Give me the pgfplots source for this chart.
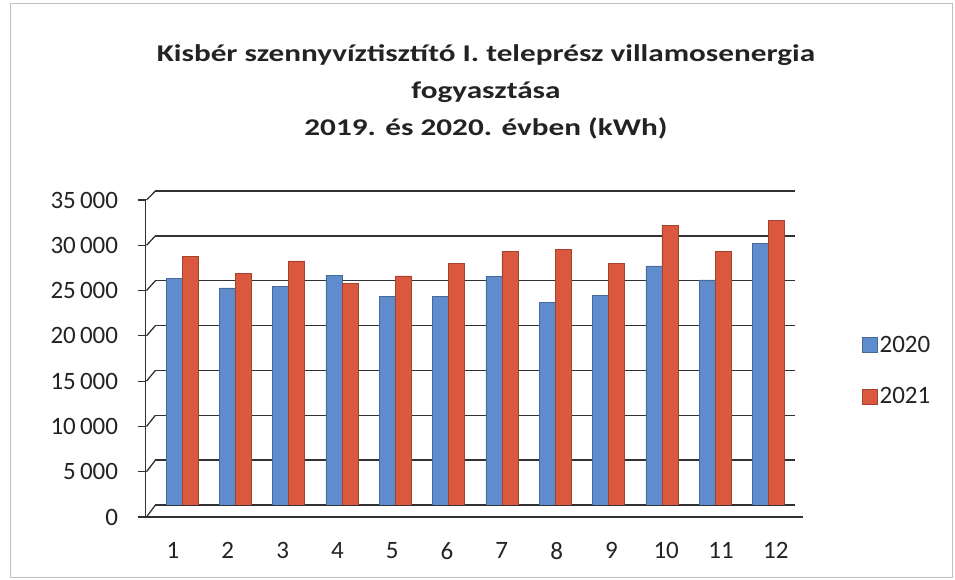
\documentclass[border=0pt]{standalone}
\usepackage{pgfplots}
\pgfplotsset{compat=1.18}
\usepackage{fontspec}
\setmainfont{Carlito}
\newfontfamily\titlefont[FakeStretch=1.3]{Carlito}
\definecolor{bblue}{RGB}{95,140,205}
\definecolor{bred}{RGB}{218,88,62}
\definecolor{txt}{RGB}{35,35,35}
\definecolor{gridc}{RGB}{50,50,50}

\begin{document}
\begin{tikzpicture}[x=1pt,y=1pt]
\path (0,0) rectangle (955,580);
\draw[black!25, line width=1pt] (10,2) rectangle (952,576);
\node[align=center, font=\titlefont\bfseries\fontsize{24}{37}\selectfont, text=txt] at (486,488)
  {Kisbér szennyvíztisztító I. teleprész villamosenergia\\fogyasztása\\2019. és 2020. évben (kWh)};

% back wall axis with the bars
\begin{axis}[
  at={(155.4pt,75pt)}, anchor=south west,
  scale only axis, width=639.6pt, height=314pt,
  xmin=0.5, xmax=12.5, ymin=0, ymax=35000,
  axis line style={draw=none},
  xtick=\empty, ytick={0,5000,...,35000}, yticklabels={},
  scaled y ticks=false,
  major tick length=0pt,
  ymajorgrids, grid style={gridc, line width=1.3pt},
  ybar=0pt, bar width=16pt,
  legend image code/.code={\fill[#1] (0pt,-7.5pt) rectangle (15pt,7.5pt);},
  legend style={draw=none, fill=none, font=\fontsize{25}{30}\selectfont, text=txt,
    at={(1.10,0.552)}, anchor=north west, row sep=30pt},
  legend cell align=left,
]
\addplot[fill=bblue, draw=bblue!75!black] coordinates {
(1,25300) (2,24200) (3,24400) (4,25600) (5,23250) (6,23250)
(7,25450) (8,22600) (9,23400) (10,26650) (11,25100) (12,29200)};
\addplot[fill=bred, draw=bred!75!black] coordinates {
(1,27700) (2,25850) (3,27200) (4,24700) (5,25550) (6,26950)
(7,28250) (8,28500) (9,26950) (10,31200) (11,28300) (12,31700)};
\legend{2020,2021}
\end{axis}

% front axis with the labels
\begin{axis}[
  at={(145.6pt,63pt)}, anchor=south west,
  scale only axis, width=657.6pt, height=317pt,
  xmin=0.5, xmax=12.5, ymin=0, ymax=35000,
  axis x line=bottom, axis y line=left,
  axis line style={gridc, line width=1.3pt, -},
  xtick={1,...,12}, minor xtick={1.5,2.5,...,12.5},
  xtick style={draw=none},
  minor tick style={gridc, line width=1.2pt},
  ytick={0,5000,...,35000},
  ytick style={gridc, line width=1.2pt},
  tick align=outside, major tick length=8pt, minor tick length=8pt,
  scaled y ticks=false,
  /pgf/number format/.cd, 1000 sep={\,}, assume math mode=true,
  /pgfplots/.cd,
  ticklabel style={font=\fontsize{25}{30}\selectfont, text=txt},
  yticklabel style={xshift=-16pt, yshift=0pt},
  xticklabel style={yshift=-14pt},
]
\addplot[draw=none] coordinates {(1,0)};
\end{axis}
\foreach \k in {0,...,7} {
  \draw[gridc, line width=1.3pt] (146.5,{63+\k*317/7}) -- (155.4,{75+\k*314/7});
}
\end{tikzpicture}
\end{document}
